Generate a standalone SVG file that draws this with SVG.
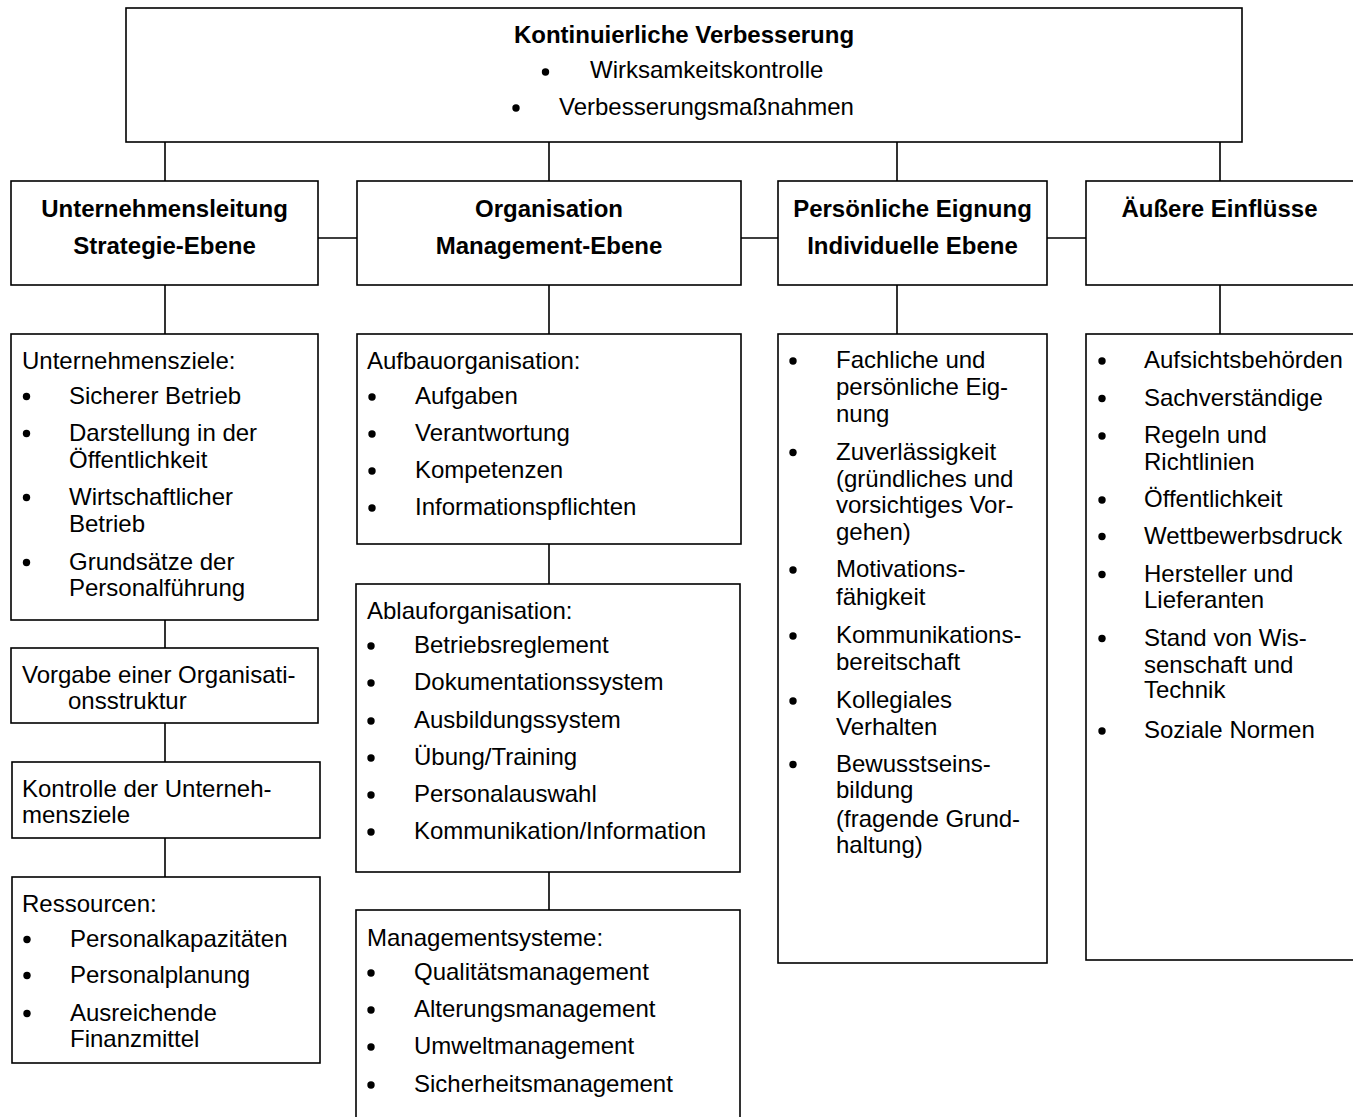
<svg xmlns="http://www.w3.org/2000/svg" width="1353" height="1117" viewBox="0 0 1353 1117">
<style>
.box{fill:#fff;stroke:#000;stroke-width:1.6}
.ln{stroke:#000;stroke-width:1.6;fill:none}
text{font-family:"Liberation Sans",Arial,sans-serif;font-size:24px;fill:#000}
.b{font-weight:bold}
.c{text-anchor:middle}
.dot{fill:#000}
</style>
<defs>
<circle id="bul" r="3.7" class="dot"/>
</defs>
<rect width="1353" height="1117" fill="#fff"/>
<g id="connectors">
<path class="ln" d="M165,142V181M549,142V181M897,142V181M1220,142V181"/>
<path class="ln" d="M318,238H357M741,238H778M1047,238H1086"/>
<path class="ln" d="M165,285V334M549,285V334M897,285V334M1220,285V334"/>
<path class="ln" d="M165,620V648M165,723V762M165,838V877"/>
<path class="ln" d="M549,544V584M549,872V910"/>
</g>
<g id="n-top">
<rect class="box" x="126" y="8" width="1116" height="134"/>
<text class="b c" x="684" y="43">Kontinuierliche Verbesserung</text>
<use href="#bul" x="545.5" y="72"/>
<text x="590" y="78">Wirksamkeitskontrolle</text>
<use href="#bul" x="516" y="108"/>
<text x="559" y="115">Verbesserungsmaßnahmen</text>
</g>
<g id="n-leitung">
<rect class="box" x="11" y="181" width="307" height="104"/>
<text class="b c" x="164.5" y="217">Unternehmensleitung</text>
<text class="b c" x="164.5" y="254">Strategie-Ebene</text>
</g>
<g id="n-organisation">
<rect class="box" x="357" y="181" width="384" height="104"/>
<text class="b c" x="549" y="217">Organisation</text>
<text class="b c" x="549" y="254">Management-Ebene</text>
</g>
<g id="n-eignung">
<rect class="box" x="778" y="181" width="269" height="104"/>
<text class="b c" x="912.5" y="217">Persönliche Eignung</text>
<text class="b c" x="912.5" y="254">Individuelle Ebene</text>
</g>
<g id="n-einfluesse">
<rect class="box" x="1086" y="181" width="272" height="104"/>
<text class="b c" x="1219.5" y="217">Äußere Einflüsse</text>
</g>
<g id="n-ziele">
<rect class="box" x="11" y="334" width="307" height="286"/>
<text x="22" y="369">Unternehmensziele:</text>
<use href="#bul" x="26.5" y="396.5"/>
<text x="69" y="404">Sicherer Betrieb</text>
<use href="#bul" x="26.5" y="433.5"/>
<text x="69" y="441">Darstellung in der</text>
<text x="69" y="467.5">Öffentlichkeit</text>
<use href="#bul" x="26.5" y="497.5"/>
<text x="69" y="505">Wirtschaftlicher</text>
<text x="69" y="532">Betrieb</text>
<use href="#bul" x="26.5" y="562.5"/>
<text x="69" y="570">Grundsätze der</text>
<text x="69" y="596">Personalführung</text>
</g>
<g id="n-vorgabe">
<rect class="box" x="11" y="648" width="307" height="75"/>
<text x="22" y="683">Vorgabe einer Organisati-</text>
<text x="68" y="709">onsstruktur</text>
</g>
<g id="n-kontrolle">
<rect class="box" x="12" y="762" width="308" height="76"/>
<text x="22" y="797">Kontrolle der Unterneh-</text>
<text x="22" y="823">mensziele</text>
</g>
<g id="n-ressourcen">
<rect class="box" x="12" y="877" width="308" height="186"/>
<text x="22" y="912">Ressourcen:</text>
<use href="#bul" x="27" y="939.5"/>
<text x="70" y="947">Personalkapazitäten</text>
<use href="#bul" x="27" y="975.5"/>
<text x="70" y="983">Personalplanung</text>
<use href="#bul" x="27" y="1013.5"/>
<text x="70" y="1021">Ausreichende</text>
<text x="70" y="1047">Finanzmittel</text>
</g>
<g id="n-aufbau">
<rect class="box" x="357" y="334" width="384" height="210"/>
<text x="367" y="369">Aufbauorganisation:</text>
<use href="#bul" x="372" y="397"/>
<text x="415" y="404">Aufgaben</text>
<use href="#bul" x="372" y="434"/>
<text x="415" y="441">Verantwortung</text>
<use href="#bul" x="372" y="471"/>
<text x="415" y="478">Kompetenzen</text>
<use href="#bul" x="372" y="508"/>
<text x="415" y="515">Informationspflichten</text>
</g>
<g id="n-ablauf">
<rect class="box" x="356" y="584" width="384" height="288"/>
<text x="367" y="619">Ablauforganisation:</text>
<use href="#bul" x="371" y="646"/>
<text x="414" y="653">Betriebsreglement</text>
<use href="#bul" x="371" y="683"/>
<text x="414" y="690">Dokumentationssystem</text>
<use href="#bul" x="371" y="721"/>
<text x="414" y="728">Ausbildungssystem</text>
<use href="#bul" x="371" y="758"/>
<text x="414" y="765">Übung/Training</text>
<use href="#bul" x="371" y="795"/>
<text x="414" y="802">Personalauswahl</text>
<use href="#bul" x="371" y="832"/>
<text x="414" y="839">Kommunikation/Information</text>
</g>
<g id="n-management">
<rect class="box" x="356" y="910" width="384" height="220"/>
<text x="367" y="946">Managementsysteme:</text>
<use href="#bul" x="371" y="973"/>
<text x="414" y="980">Qualitätsmanagement</text>
<use href="#bul" x="371" y="1010"/>
<text x="414" y="1017">Alterungsmanagement</text>
<use href="#bul" x="371" y="1047"/>
<text x="414" y="1054">Umweltmanagement</text>
<use href="#bul" x="371" y="1085"/>
<text x="414" y="1092">Sicherheitsmanagement</text>
</g>
<g id="n-eignung-liste">
<rect class="box" x="778" y="334" width="269" height="629"/>
<use href="#bul" x="793" y="361"/>
<text x="836" y="368">Fachliche und</text>
<text x="836" y="395">persönliche Eig-</text>
<text x="836" y="421.5">nung</text>
<use href="#bul" x="793" y="452.5"/>
<text x="836" y="460">Zuverlässigkeit</text>
<text x="836" y="486.5">(gründliches und</text>
<text x="836" y="513">vorsichtiges Vor-</text>
<text x="836" y="540">gehen)</text>
<use href="#bul" x="793" y="570"/>
<text x="836" y="577">Motivations-</text>
<text x="836" y="605">fähigkeit</text>
<use href="#bul" x="793" y="636"/>
<text x="836" y="643">Kommunikations-</text>
<text x="836" y="670">bereitschaft</text>
<use href="#bul" x="793" y="701"/>
<text x="836" y="708">Kollegiales</text>
<text x="836" y="735">Verhalten</text>
<use href="#bul" x="793" y="764.5"/>
<text x="836" y="772">Bewusstseins-</text>
<text x="836" y="798">bildung</text>
<text x="836" y="827">(fragende Grund-</text>
<text x="836" y="853">haltung)</text>
</g>
<g id="n-einfluesse-liste">
<rect class="box" x="1086" y="334" width="272" height="626"/>
<use href="#bul" x="1102" y="361"/>
<text x="1144" y="368">Aufsichtsbehörden</text>
<use href="#bul" x="1102" y="398.5"/>
<text x="1144" y="406">Sachverständige</text>
<use href="#bul" x="1102" y="436"/>
<text x="1144" y="443">Regeln und</text>
<text x="1144" y="470">Richtlinien</text>
<use href="#bul" x="1102" y="500"/>
<text x="1144" y="507">Öffentlichkeit</text>
<use href="#bul" x="1102" y="536.5"/>
<text x="1144" y="544">Wettbewerbsdruck</text>
<use href="#bul" x="1102" y="574.5"/>
<text x="1144" y="582">Hersteller und</text>
<text x="1144" y="608">Lieferanten</text>
<use href="#bul" x="1102" y="638.5"/>
<text x="1144" y="646">Stand von Wis-</text>
<text x="1144" y="673">senschaft und</text>
<text x="1144" y="698">Technik</text>
<use href="#bul" x="1102" y="731"/>
<text x="1144" y="738">Soziale Normen</text>
</g>
</svg>
